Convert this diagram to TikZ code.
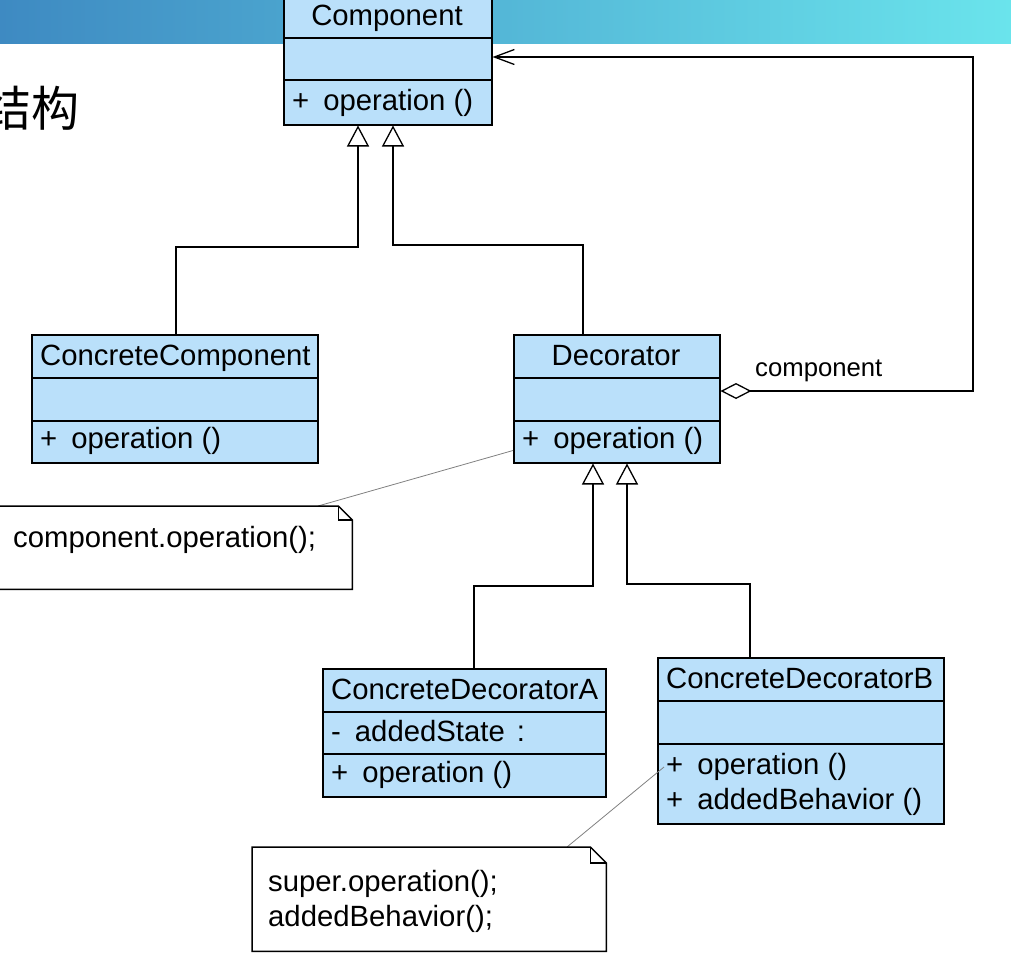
\documentclass[tikz,border=0pt]{standalone}
\usepackage{fontspec}
\newfontfamily\umlfont{Liberation Sans}
\newfontfamily\cjkfont{Noto Sans CJK SC}
\usetikzlibrary{arrows.meta,calc}
\definecolor{clsblue}{RGB}{186,224,250}
\definecolor{bannerL}{RGB}{62,138,194}
\definecolor{bannerR}{RGB}{106,228,236}
\tikzset{
  cls/.style={draw=black, line width=1.5pt, fill=clsblue, inner sep=0pt, anchor=north west},
  txt/.style={inner sep=0pt, font=\umlfont\fontsize{29.3}{34}\selectfont},
  lbl/.style={inner sep=0pt, font=\umlfont\fontsize{25.7}{30}\selectfont},
  inh/.style={line width=1.3pt, -{Triangle[open,length=21pt,width=22pt,line width=1.3pt]}},
  agg/.style={line width=1.3pt, {Diamond[open,length=31pt,width=16pt,line width=1.3pt]}-{Straight Barb[length=20pt,width=15pt,line width=1.3pt]}},
  notebox/.style={draw=black, line width=1.5pt, fill=white},
  noteline/.style={draw=black!50, line width=0.8pt},
  notenode/.style={inner sep=0pt, anchor=north west}
}
\begin{document}
\begin{tikzpicture}[x=1pt,y=-1pt]
\useasboundingbox (0,0) rectangle (1011,964);
\clip (0,0) rectangle (1011,964);
% banner
\shade[left color=bannerL, right color=bannerR] (0,0) rectangle (1011,43);
\node[inner sep=0pt, anchor=base east, font=\cjkfont\fontsize{48}{52}\selectfont] (title) at (80,126) {结构};

% Component
\node[cls, minimum width=208pt, minimum height=130pt] (comp) at (283,-6) {};
\draw[line width=1.5pt] ($(comp.north west)+(0,44)$) -- ($(comp.north east)+(0,44)$);
\draw[line width=1.5pt] ($(comp.north west)+(0,86)$) -- ($(comp.north east)+(0,86)$);
\node[txt, anchor=base] (compT) at (387,25) {Component};
\node[txt, anchor=base west] (compO) at (292,110) {+\hspace{14pt}operation ()};

% ConcreteComponent
\node[cls, minimum width=286pt, minimum height=128pt] (cc) at (31,334) {};
\draw[line width=1.5pt] ($(cc.north west)+(0,44)$) -- ($(cc.north east)+(0,44)$);
\draw[line width=1.5pt] ($(cc.north west)+(0,87)$) -- ($(cc.north east)+(0,87)$);
\node[txt, anchor=base west] (ccT) at (40,365) {ConcreteComponent};
\node[txt, anchor=base west] (ccO) at (40,448) {+\hspace{14pt}operation ()};

% Decorator
\node[cls, minimum width=206pt, minimum height=128pt] (dec) at (513,334) {};
\draw[line width=1.5pt] ($(dec.north west)+(0,44)$) -- ($(dec.north east)+(0,44)$);
\draw[line width=1.5pt] ($(dec.north west)+(0,87)$) -- ($(dec.north east)+(0,87)$);
\node[txt, anchor=base] (decT) at (616,365) {Decorator};
\node[txt, anchor=base west] (decO) at (522,448) {+\hspace{14pt}operation ()};

% ConcreteDecoratorA
\node[cls, minimum width=283pt, minimum height=128pt] (cda) at (322,668) {};
\draw[line width=1.5pt] ($(cda.north west)+(0,44)$) -- ($(cda.north east)+(0,44)$);
\draw[line width=1.5pt] ($(cda.north west)+(0,86)$) -- ($(cda.north east)+(0,86)$);
\node[txt, anchor=base west] (cdaT) at (331,699) {ConcreteDecoratorA};
\node[txt, anchor=base west] (cdaA) at (331,741) {-\hspace{14pt}addedState\hspace{12pt}:};
\node[txt, anchor=base west] (cdaO) at (331,782) {+\hspace{14pt}operation ()};

% ConcreteDecoratorB
\node[cls, minimum width=286pt, minimum height=166pt] (cdb) at (657,657) {};
\draw[line width=1.5pt] ($(cdb.north west)+(0,44)$) -- ($(cdb.north east)+(0,44)$);
\draw[line width=1.5pt] ($(cdb.north west)+(0,87)$) -- ($(cdb.north east)+(0,87)$);
\node[txt, anchor=base west] (cdbT) at (666,688) {ConcreteDecoratorB};
\node[txt, anchor=base west] (cdbO) at (666,774) {+\hspace{14pt}operation ()};
\node[txt, anchor=base west] (cdbB) at (666,809) {+\hspace{14pt}addedBehavior ()};

% generalizations
\coordinate (j1) at (358,247);
\coordinate (j2) at (393,245);
\coordinate (j3) at (593,586);
\coordinate (j4) at (627,584);
\draw[inh] ($(cc.north west)+(145,0)$) |- (j1) -- (j1 |- comp.south);
\draw[inh] ($(dec.north west)+(70,0)$) |- (j2) -- (j2 |- comp.south);
\draw[inh] ($(cda.north west)+(152,0)$) |- (j3) -- (j3 |- dec.south);
\draw[inh] ($(cdb.north west)+(93,0)$) |- (j4) -- (j4 |- dec.south);

% aggregation
\coordinate (a1) at (973,391);
\draw[agg] ($(dec.north east)+(0,57)$) -- (a1) |- ($(comp.north east)+(0,63)$);
\node[lbl, anchor=base west] (aggL) at (755,376) {component};

% note 1
\node[notenode, minimum width=362pt, minimum height=83pt] (n1) at (-10,506) {};
\draw[noteline] ($(n1.north west)+(328,0)$) -- ($(dec.south west)+(0,-13)$);
\draw[notebox] (n1.south west) -- (n1.north west) -- ($(n1.north east)+(-14,0)$) -- ($(n1.north east)+(0,14)$) -- (n1.south east) -- cycle;
\draw[line width=1.3pt] ($(n1.north east)+(-14,0)$) |- ($(n1.north east)+(0,14)$);
\node[txt, anchor=base west] (n1T) at (13,547) {component.operation();};

% note 2
\node[notenode, minimum width=354pt, minimum height=104pt] (n2) at (252,847) {};
\draw[noteline] ($(n2.north west)+(315,0)$) -- ($(cdb.north west)+(7,110)$);
\draw[notebox] (n2.south west) -- (n2.north west) -- ($(n2.north east)+(-16,0)$) -- ($(n2.north east)+(0,16)$) -- (n2.south east) -- cycle;
\draw[line width=1.3pt] ($(n2.north east)+(-16,0)$) |- ($(n2.north east)+(0,16)$);
\node[txt, anchor=base west] (n2a) at (268,891) {super.operation();};
\node[txt, anchor=base west] (n2b) at (268,926) {addedBehavior();};
\end{tikzpicture}
\end{document}
